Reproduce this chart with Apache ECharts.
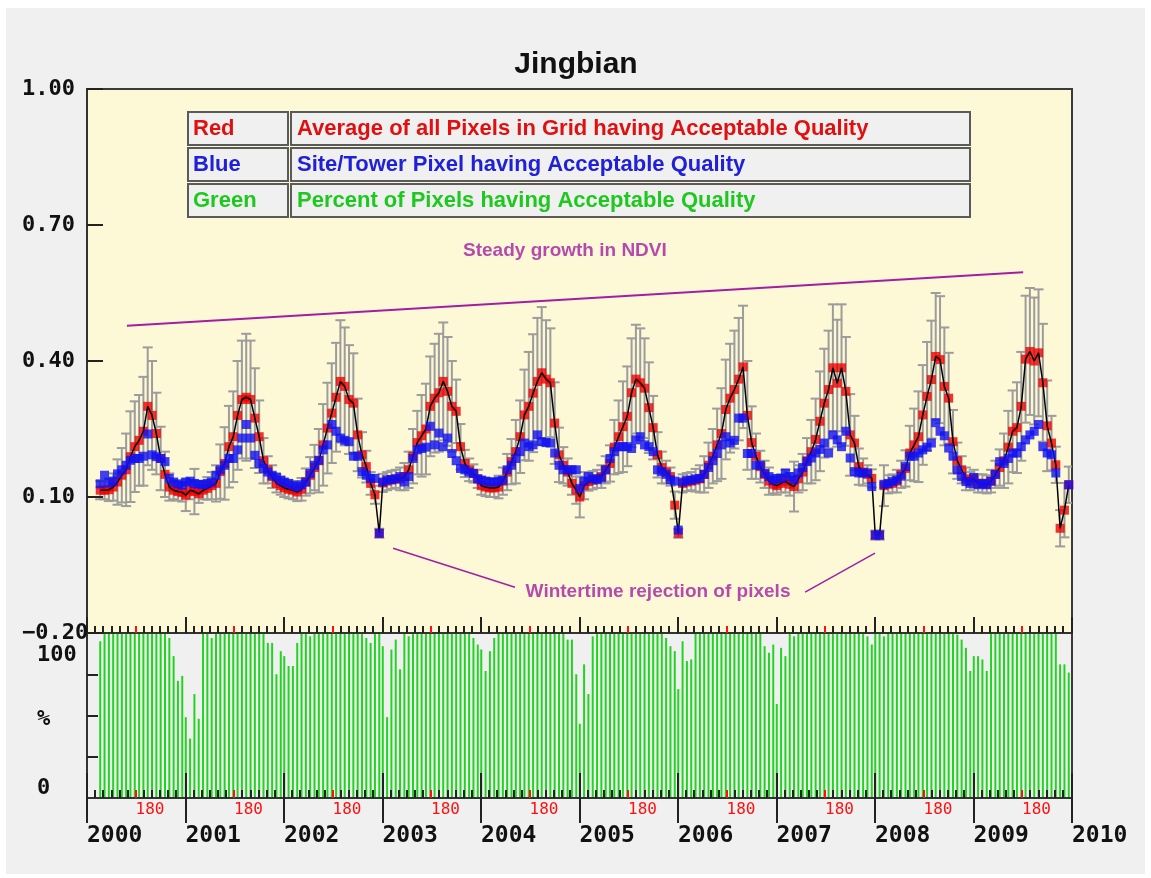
<!DOCTYPE html>
<html><head><meta charset="utf-8">
<script src="https://cdn.jsdelivr.net/npm/echarts@6/dist/echarts.min.js"></script>
<style>
html,body{margin:0;padding:0;background:#ffffff;}
#bg{position:absolute;left:6px;top:8px;width:1139px;height:866px;background:#f0f0f0;}
#c{position:absolute;left:0;top:0;width:1151px;height:878px;}
</style>
</head><body><div id="bg"></div><div id="c"></div><script>
// ---------- data ----------
const years = ['2000','2001','2002','2003','2004','2005','2006','2007','2008','2009','2010'];
const compositeDays = [1,17,33,49,65,81,97,113,129,145,161,177,193,209,225,241,257,273,289,305,321,337,353];
const firstDay2000 = 49;
// Red: average of all pixels in grid
const redAvg = [
 [0.115,0.115,0.116,0.122,0.133,0.148,0.16,0.189,0.211,0.225,0.245,0.30,0.28,0.24,0.185,0.15,0.122,0.115,0.112,0.11],
 [0.104,0.115,0.112,0.107,0.115,0.119,0.125,0.13,0.156,0.174,0.211,0.233,0.28,0.315,0.32,0.315,0.274,0.233,0.18,0.16,0.145,0.13,0.125],
 [0.12,0.117,0.115,0.111,0.117,0.133,0.148,0.165,0.18,0.215,0.252,0.285,0.32,0.355,0.344,0.315,0.307,0.237,0.193,0.167,0.13,0.105,0.02],
 [0.131,0.135,0.138,0.14,0.14,0.145,0.16,0.19,0.22,0.235,0.25,0.30,0.318,0.33,0.355,0.333,0.30,0.289,0.211,0.174,0.16,0.152,0.14],
 [0.125,0.122,0.12,0.12,0.122,0.135,0.155,0.178,0.2,0.233,0.281,0.30,0.329,0.355,0.374,0.36,0.352,0.263,0.193,0.17,0.155,0.13,0.115],
 [0.10,0.125,0.134,0.137,0.14,0.145,0.16,0.174,0.21,0.233,0.255,0.278,0.33,0.36,0.352,0.34,0.297,0.253,0.193,0.165,0.155,0.145,0.082],
 [0.02,0.13,0.133,0.135,0.137,0.14,0.15,0.17,0.19,0.215,0.24,0.293,0.318,0.337,0.36,0.387,0.28,0.22,0.19,0.167,0.15,0.135,0.128],
 [0.125,0.13,0.135,0.128,0.123,0.14,0.155,0.18,0.2,0.227,0.267,0.307,0.337,0.385,0.351,0.385,0.333,0.237,0.219,0.167,0.155,0.15,0.141],
 [0.016,0.016,0.125,0.128,0.13,0.135,0.15,0.163,0.197,0.215,0.233,0.281,0.322,0.359,0.41,0.403,0.344,0.318,0.222,0.18,0.16,0.14,0.135],
 [0.14,0.13,0.13,0.128,0.135,0.15,0.165,0.18,0.21,0.245,0.253,0.30,0.404,0.421,0.40,0.418,0.352,0.257,0.219,0.171,0.031,0.071,0.127]
];
// Blue: site / tower pixel
const blueSite = [
 [0.129,0.148,0.131,0.135,0.151,0.16,0.17,0.181,0.185,0.185,0.19,0.239,0.193,0.189,0.185,0.178,0.141,0.133,0.129,0.126],
 [0.133,0.135,0.13,0.128,0.127,0.13,0.133,0.148,0.16,0.17,0.185,0.185,0.204,0.23,0.26,0.23,0.192,0.174,0.163,0.155,0.148,0.144,0.137],
 [0.133,0.13,0.126,0.122,0.127,0.133,0.152,0.17,0.181,0.204,0.215,0.26,0.245,0.23,0.225,0.222,0.19,0.19,0.156,0.148,0.141,0.141,0.02],
 [0.133,0.138,0.138,0.14,0.145,0.133,0.145,0.185,0.204,0.207,0.21,0.256,0.215,0.241,0.211,0.23,0.196,0.18,0.163,0.16,0.155,0.152,0.14],
 [0.137,0.135,0.133,0.133,0.135,0.137,0.16,0.17,0.185,0.2,0.219,0.211,0.215,0.237,0.222,0.22,0.219,0.197,0.17,0.16,0.16,0.16,0.16],
 [0.119,0.135,0.145,0.14,0.138,0.142,0.16,0.185,0.2,0.211,0.211,0.211,0.207,0.226,0.233,0.215,0.211,0.2,0.16,0.156,0.15,0.138,0.135],
 [0.027,0.133,0.137,0.137,0.14,0.141,0.15,0.165,0.18,0.196,0.215,0.233,0.219,0.225,0.274,0.274,0.196,0.196,0.17,0.17,0.152,0.145,0.137],
 [0.141,0.141,0.153,0.145,0.138,0.153,0.165,0.178,0.186,0.197,0.205,0.219,0.197,0.237,0.226,0.211,0.245,0.186,0.156,0.153,0.153,0.153,0.123],
 [0.016,0.016,0.128,0.13,0.134,0.138,0.146,0.167,0.19,0.19,0.197,0.204,0.21,0.219,0.264,0.245,0.235,0.208,0.19,0.16,0.145,0.134,0.13],
 [0.143,0.127,0.13,0.127,0.135,0.15,0.178,0.174,0.185,0.197,0.197,0.211,0.226,0.237,0.245,0.26,0.211,0.197,0.193,0.153,null,null,0.127]
];
// Error bar half-widths (grid standard deviation)
const errStd = [
 [0.02,0.02,0.025,0.03,0.05,0.06,0.08,0.1,0.1,0.1,0.12,0.13,0.12,0.09,0.07,0.05,0.03,0.02,0.02,0.02],
 [0.035,0.02,0.05,0.02,0.02,0.025,0.03,0.04,0.06,0.08,0.09,0.1,0.12,0.13,0.14,0.13,0.11,0.08,0.05,0.03,0.025,0.02,0.02],
 [0.02,0.02,0.02,0.02,0.025,0.03,0.04,0.05,0.07,0.09,0.1,0.11,0.12,0.135,0.13,0.12,0.11,0.08,0.05,0.035,0.025,0.02,0.01],
 [0.02,0.02,0.02,0.02,0.025,0.03,0.04,0.06,0.07,0.09,0.1,0.11,0.12,0.13,0.13,0.12,0.1,0.07,0.05,0.03,0.025,0.02,0.02],
 [0.02,0.02,0.02,0.02,0.025,0.03,0.04,0.05,0.07,0.08,0.1,0.12,0.13,0.14,0.145,0.13,0.12,0.09,0.06,0.04,0.03,0.025,0.03],
 [0.045,0.03,0.02,0.02,0.02,0.025,0.03,0.04,0.06,0.08,0.1,0.11,0.12,0.12,0.12,0.11,0.1,0.07,0.05,0.035,0.025,0.02,0.03],
 [0.01,0.02,0.02,0.02,0.025,0.03,0.04,0.05,0.06,0.08,0.1,0.11,0.12,0.13,0.135,0.135,0.12,0.08,0.05,0.035,0.03,0.03,0.02],
 [0.02,0.02,0.025,0.025,0.055,0.03,0.04,0.05,0.07,0.09,0.11,0.12,0.13,0.14,0.14,0.14,0.12,0.09,0.06,0.04,0.03,0.02,0.02],
 [0.01,0.01,0.045,0.02,0.02,0.025,0.03,0.04,0.06,0.08,0.1,0.11,0.12,0.13,0.14,0.14,0.13,0.1,0.07,0.04,0.03,0.025,0.02],
 [0.02,0.02,0.02,0.02,0.025,0.03,0.04,0.06,0.08,0.09,0.1,0.12,0.14,0.14,0.14,0.14,0.13,0.1,0.06,0.04,0.04,0.06,0.04]
];
// Green: percent of pixels with acceptable quality
const pctGood = [
 [95,100,100,100,100,100,100,100,100,100,100,100,100,100,100,100,97,86,71,74],
 [49,36,63,48,100,100,97,100,100,100,100,100,100,100,100,100,100,100,100,94,94,75,89],
 [86,80,80,94,100,100,98,100,100,100,100,100,100,100,100,100,100,100,100,97,94,100,100],
 [92,49,90,96,78,100,98,100,100,100,100,100,100,100,100,100,100,100,100,100,100,97,93],
 [90,77,89,97,100,100,100,100,100,100,100,100,100,100,100,100,100,100,100,100,96,96,75],
 [45,81,63,98,100,100,100,100,100,100,100,100,100,100,100,100,100,100,100,100,97,92,89],
 [66,95,83,84,100,100,100,100,100,100,100,100,100,100,100,100,100,100,100,100,92,88,93],
 [57,91,86,100,98,100,100,100,100,100,100,100,100,100,100,100,100,100,100,100,100,98,93],
 [100,100,98,100,100,100,100,100,100,100,100,100,100,100,100,100,100,100,100,99,96,91,77],
 [86,86,84,77,100,100,100,100,100,100,100,100,100,100,100,100,100,100,100,100,81,81,76]
];
const minorTickDays = [30,60,90,120,150,210,240,270,300,330];
const midYearDay = 180;
const midYearLabel = '180';
const yTickLabels = ['\u22120.20','0.10','0.40','0.70','1.00'];
const pctTickLabels = ['0','%','100'];
const legendKeys = ['Red','Blue','Green'];
const legendDescs = ['Average of all Pixels in Grid having Acceptable Quality','Site/Tower Pixel having Acceptable Quality','Percent of Pixels having Acceptable Quality'];
const titleText = 'Jingbian';
const growthText = 'Steady growth in NDVI';
const winterText = 'Wintertime rejection of pixels';
// annotation anchors in data coordinates [day since 2000, NDVI]
const growthLine = [[148,0.478],[3469,0.596]];
const winterLineLeft = [[1134,-0.013],[1586,-0.099]];
const winterLineRight = [[2661,-0.110],[2920,-0.024]];
const growthTextAt = [1771,0.644];
const winterTextAt = [2116,-0.108];

// ---------- build ----------
const YEAR = 365;
const redPts=[], bluePts=[], errPts=[], pctPts=[];
for (let yi=0; yi<10; yi++){
  const days = yi===0 ? compositeDays.filter(d=>d>=firstDay2000) : compositeDays;
  days.forEach((d,k)=>{
    const x = yi*YEAR + d;
    const r = redAvg[yi][k], b = blueSite[yi][k], e = errStd[yi][k];
    redPts.push([x,r]);
    if (b !== null) bluePts.push([x,b]);
    errPts.push([x, r-e, r+e]);
    pctPts.push([x, pctGood[yi][k]]);
  });
}
const minorTicks=[], redTicks=[], yearTicks=[];
for (let yi=0; yi<10; yi++){
  minorTickDays.forEach(d=>minorTicks.push(yi*YEAR+d));
  redTicks.push(yi*YEAR+midYearDay);
}
for (let yi=0; yi<=10; yi++) yearTicks.push(yi*YEAR);
const XMAX = 10*YEAR;

const MONO = '"DejaVu Sans Mono", monospace';
const SANS = '"Liberation Sans", Arial, sans-serif';
const PURPLE = '#a21ea2';

function xAx(grid, opts){
  return Object.assign({
    type:'value', gridIndex:grid, min:0, max:XMAX, position:'bottom', z:6,
    axisLine:{show:false, onZero:false},
    axisTick:{show:false},
    axisLabel:{show:false},
    splitLine:{show:false}
  }, opts);
}

const xAxes = [
  xAx(0,{axisLine:{show:true,onZero:false,lineStyle:{color:'#333',width:2}},
         axisTick:{show:true,inside:true,length:7,customValues:minorTicks,lineStyle:{color:'#222',width:2}}}),
  xAx(0,{axisTick:{show:true,inside:true,length:7,customValues:redTicks,lineStyle:{color:'#ff1010',width:2}}}),
  xAx(0,{axisTick:{show:true,inside:true,length:16,customValues:yearTicks,lineStyle:{color:'#222',width:2}}}),
  xAx(1,{axisLine:{show:true,onZero:false,lineStyle:{color:'#333',width:2}},
         axisTick:{show:true,inside:true,length:8,customValues:minorTicks,lineStyle:{color:'#222',width:2}}}),
  xAx(1,{axisTick:{show:true,inside:true,length:8,customValues:redTicks,lineStyle:{color:'#ff1010',width:2}},
         axisLabel:{show:true,customValues:redTicks,formatter:()=>midYearLabel,color:'#ff1010',
                    fontFamily:MONO,fontSize:16,align:'left',margin:4,showMinLabel:true,showMaxLabel:true}}),
  xAx(1,{axisTick:{show:true,inside:true,length:25,customValues:yearTicks,lineStyle:{color:'#222',width:2}}}),
  xAx(1,{axisTick:{show:true,inside:false,length:25,customValues:yearTicks,lineStyle:{color:'#222',width:2}},
         axisLabel:{show:true,customValues:yearTicks,formatter:(v)=>years[Math.round(v/YEAR)],color:'#111',
                    fontFamily:MONO,fontSize:23,fontWeight:'bold',align:'left',margin:27,showMinLabel:true,showMaxLabel:true}})
];

const pctLabelPos = [6,48,86.5];

const option = {
  animation:false,
  backgroundColor:'transparent',
  title:{text:titleText,left:571,textAlign:'center',top:45,textStyle:{fontFamily:SANS,fontSize:30,fontWeight:'bold',color:'#111'}},
  grid:[
    {left:87,top:89,width:985,height:544,show:true,backgroundColor:'#fdf8d6',borderColor:'#3a3a3a',borderWidth:2,containLabel:false},
    {left:87,top:633,width:985,height:165,show:true,backgroundColor:'transparent',borderColor:'#3a3a3a',borderWidth:2,containLabel:false}
  ],
  xAxis:xAxes,
  yAxis:[
    {type:'value',gridIndex:0,min:-0.2,max:1.0,interval:0.3,z:6,
     axisLine:{show:true,onZero:false,lineStyle:{color:'#333',width:2}},
     axisTick:{show:true,inside:true,length:16,lineStyle:{color:'#222',width:2}},
     splitLine:{show:false},
     axisLabel:{show:true,formatter:(v)=>yTickLabels[Math.round((v+0.2)/0.3)],fontFamily:MONO,fontSize:22,fontWeight:'bold',color:'#111',
                align:'left',margin:65,padding:[0,0,13,0],showMinLabel:true,showMaxLabel:true}},
    {type:'value',gridIndex:1,min:0,max:100,z:6,
     axisLine:{show:true,onZero:false,lineStyle:{color:'#333',width:2}},
     axisTick:{show:true,inside:true,length:11,customValues:[25,50,75],lineStyle:{color:'#222',width:2}},
     splitLine:{show:false},
     axisLabel:{show:true,customValues:pctLabelPos,formatter:(v)=>pctTickLabels[pctLabelPos.indexOf(v)],
                fontFamily:MONO,fontSize:22,fontWeight:'bold',color:'#111',align:'left',margin:50,showMinLabel:true,showMaxLabel:true}}
  ],
  series:[
    {type:'custom',name:'err',xAxisIndex:0,yAxisIndex:0,clip:true,silent:true,z:2,
     data:errPts,encode:{x:0,y:[1,2]},
     renderItem:(params,api)=>{
       const x=api.value(0);
       const lo=api.coord([x,api.value(1)]), hi=api.coord([x,api.value(2)]);
       const hw=5, st={stroke:'#9c9c9c',lineWidth:2};
       return {type:'group',children:[
         {type:'line',shape:{x1:lo[0],y1:lo[1],x2:hi[0],y2:hi[1]},style:st},
         {type:'line',shape:{x1:lo[0]-hw,y1:lo[1],x2:lo[0]+hw,y2:lo[1]},style:st},
         {type:'line',shape:{x1:hi[0]-hw,y1:hi[1],x2:hi[0]+hw,y2:hi[1]},style:st}
       ]};
     }},
    {type:'scatter',name:'Red',xAxisIndex:0,yAxisIndex:0,data:redPts,symbol:'rect',symbolSize:9,
     itemStyle:{color:'#f00000'},z:3,silent:true},
    {type:'line',name:'redline',xAxisIndex:0,yAxisIndex:0,data:redPts,showSymbol:false,symbol:'none',
     lineStyle:{color:'#000',width:1.5},z:4,silent:true},
    {type:'scatter',name:'Blue',xAxisIndex:0,yAxisIndex:0,data:bluePts,symbol:'rect',symbolSize:9,
     itemStyle:{color:'#1010f0'},z:5,silent:true},
    {type:'line',xAxisIndex:0,yAxisIndex:0,data:growthLine,symbol:'none',lineStyle:{color:PURPLE,width:2},z:3,silent:true},
    {type:'line',xAxisIndex:0,yAxisIndex:0,data:winterLineLeft,symbol:'none',lineStyle:{color:PURPLE,width:1.5},z:3,silent:true},
    {type:'line',xAxisIndex:0,yAxisIndex:0,data:winterLineRight,symbol:'none',lineStyle:{color:PURPLE,width:1.5},z:3,silent:true},
    {type:'scatter',xAxisIndex:0,yAxisIndex:0,symbolSize:0,silent:true,z:6,
     data:[{value:growthTextAt,name:growthText},{value:winterTextAt,name:winterText}],
     label:{show:true,position:'inside',formatter:(p)=>p.name,color:PURPLE,fontFamily:SANS,fontSize:19,fontWeight:'bold'}},
    {type:'bar',name:'Green',xAxisIndex:3,yAxisIndex:1,data:pctPts,barWidth:2,itemStyle:{color:'#22d422'},z:2,silent:true}
  ],
  graphic:[]
};

legendKeys.forEach((k,i)=>{
  const y0 = 112 + i*36;
  const colors=['#e01010','#2020d8','#1ec81e'];
  option.graphic.push(
    {type:'rect',shape:{x:188,y:y0,width:100,height:33},style:{fill:'#f0f0f0',stroke:'#5a5a5a',lineWidth:2},z:50},
    {type:'rect',shape:{x:291,y:y0,width:679,height:33},style:{fill:'#f0f0f0',stroke:'#5a5a5a',lineWidth:2},z:50},
    {type:'text',x:193,y:y0+17,style:{text:k,fill:colors[i],font:'bold 22px '+SANS,verticalAlign:'middle'},z:51},
    {type:'text',x:297,y:y0+17,style:{text:legendDescs[i],fill:colors[i],font:'bold 22px '+SANS,verticalAlign:'middle'},z:51}
  );
});

const chart = echarts.init(document.getElementById('c'));
chart.setOption(option);
</script></body></html>
